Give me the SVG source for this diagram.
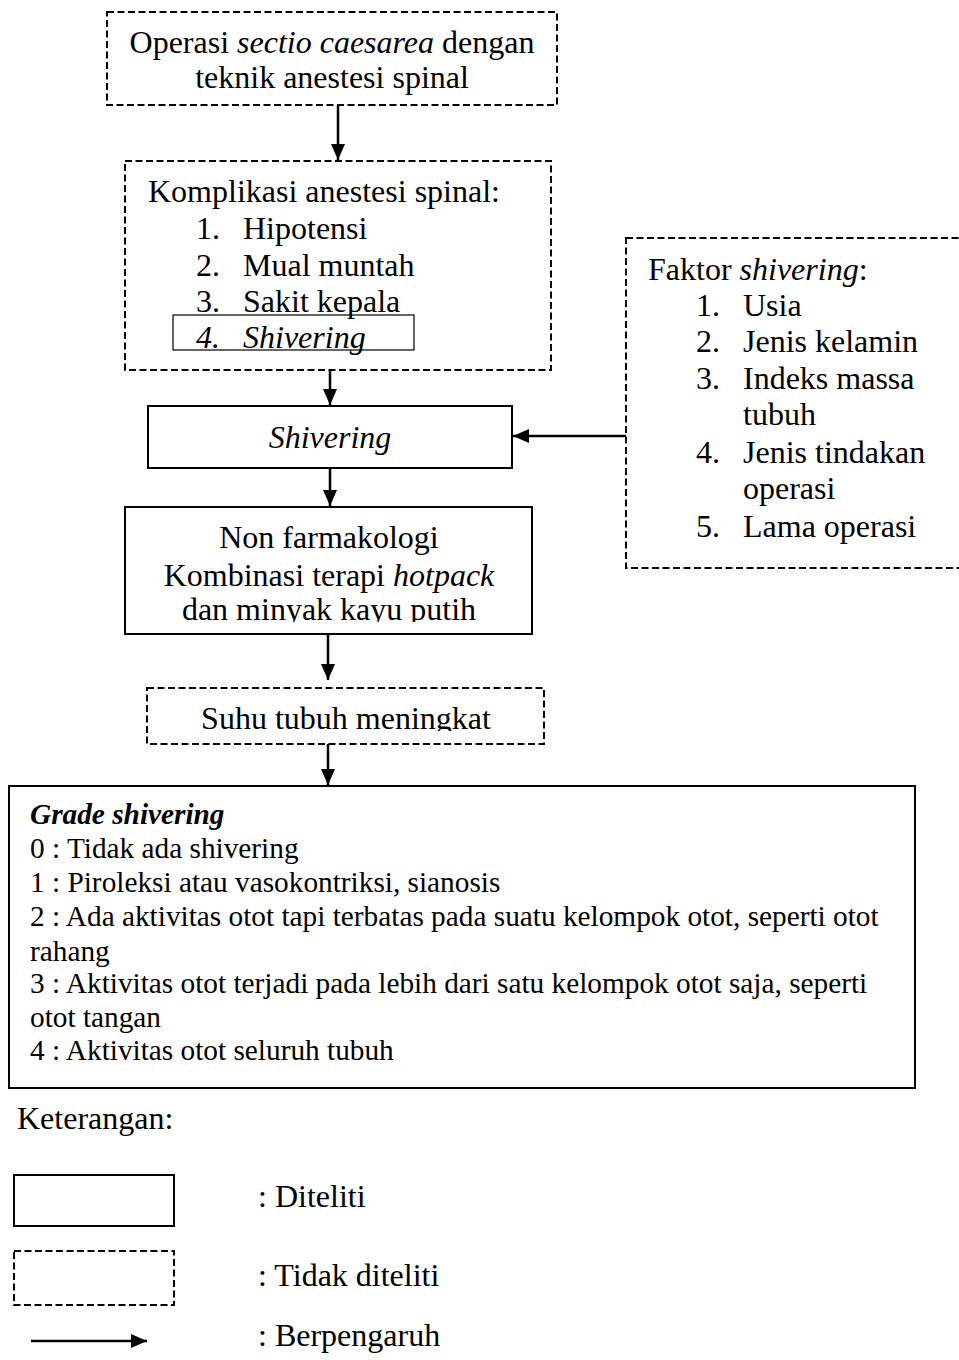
<svg xmlns="http://www.w3.org/2000/svg" width="959" height="1360" viewBox="0 0 959 1360">
<style>
text{font-family:"Liberation Serif","Times New Roman",serif;fill:#000;font-size:32px}
.s{fill:#fff;stroke:#000;stroke-width:2}
.d{fill:#fff;stroke:#000;stroke-width:2;stroke-dasharray:7,3.5}
.c{stroke:#000;stroke-width:2.5;fill:none}
.i{font-style:italic}
.g{font-size:29.3px}
.m{text-anchor:middle}
</style>
<defs>
<marker id="a" viewBox="0 0 16 14" refX="16" refY="7" markerWidth="16" markerHeight="14" orient="auto" markerUnits="userSpaceOnUse"><path d="M0,0 L16,7 L0,14 z" fill="#000"/></marker>
<clipPath id="cp1"><rect x="125" y="507" width="407" height="115"/></clipPath>
<clipPath id="cp2"><rect x="147" y="688" width="397" height="43"/></clipPath>
</defs>

<g id="connectors">
<line class="c" x1="338" y1="105" x2="338" y2="160" marker-end="url(#a)"/>
<line class="c" x1="330" y1="350" x2="330" y2="405" marker-end="url(#a)"/>
<line class="c" x1="626" y1="436" x2="513" y2="436" marker-end="url(#a)"/>
<line class="c" x1="330" y1="468" x2="330" y2="506" marker-end="url(#a)"/>
<line class="c" x1="328" y1="634" x2="328" y2="680" marker-end="url(#a)"/>
<line class="c" x1="328" y1="744" x2="328" y2="785" marker-end="url(#a)"/>
</g>

<g id="node-operasi">
<rect class="d" x="107" y="12" width="450" height="93"/>
<text class="m" x="332" y="53">Operasi <tspan class="i">sectio caesarea</tspan> dengan</text>
<text class="m" x="332" y="88">teknik anestesi spinal</text>
</g>

<g id="node-komplikasi">
<rect class="d" x="125" y="161" width="426" height="209"/>
<text x="148" y="202">Komplikasi anestesi spinal:</text>
<text x="196" y="239">1.</text><text x="243" y="239">Hipotensi</text>
<text x="196" y="276">2.</text><text x="243" y="276">Mual muntah</text>
<text x="196" y="312">3.</text><text x="243" y="312">Sakit kepala</text>
<rect x="173" y="315" width="241" height="35" fill="none" stroke="#000" stroke-width="1.2"/>
<text class="i" x="196" y="348">4.</text><text class="i" x="243" y="348">Shivering</text>
</g>

<g id="node-faktor">
<rect class="d" x="626" y="238" width="345" height="330"/>
<text x="648" y="280">Faktor <tspan class="i">shivering</tspan>:</text>
<text x="696" y="316">1.</text><text x="743" y="316">Usia</text>
<text x="696" y="352">2.</text><text x="743" y="352">Jenis kelamin</text>
<text x="696" y="389">3.</text><text x="743" y="389">Indeks massa</text>
<text x="743" y="425">tubuh</text>
<text x="696" y="463">4.</text><text x="743" y="463">Jenis tindakan</text>
<text x="743" y="499">operasi</text>
<text x="696" y="537">5.</text><text x="743" y="537">Lama operasi</text>
</g>

<g id="node-shivering">
<rect class="s" x="148" y="406" width="364" height="62"/>
<text class="m i" x="330" y="448">Shivering</text>
</g>

<g id="node-nonfarmakologi">
<rect class="s" x="125" y="507" width="407" height="127"/>
<g clip-path="url(#cp1)">
<text class="m" x="329" y="548">Non farmakologi</text>
<text class="m" x="329" y="586">Kombinasi terapi <tspan class="i">hotpack</tspan></text>
<text class="m" x="329" y="620">dan minyak kayu putih</text>
</g>
</g>

<g id="node-suhu">
<rect class="d" x="147" y="688" width="397" height="56"/>
<g clip-path="url(#cp2)">
<text class="m" x="346" y="729">Suhu tubuh meningkat</text>
</g>
</g>

<g id="node-grade">
<rect class="s" x="9" y="786" width="906" height="302"/>
<text class="g" x="30" y="824" font-weight="bold" font-style="italic">Grade shivering</text>
<text class="g" x="30" y="858">0 : Tidak ada shivering</text>
<text class="g" x="30" y="892">1 : Piroleksi atau vasokontriksi, sianosis</text>
<text class="g" x="30" y="926">2 : Ada aktivitas otot tapi terbatas pada suatu kelompok otot, seperti otot</text>
<text class="g" x="30" y="961">rahang</text>
<text class="g" x="30" y="993">3 : Aktivitas otot terjadi pada lebih dari satu kelompok otot saja, seperti</text>
<text class="g" x="30" y="1027">otot tangan</text>
<text class="g" x="30" y="1060">4 : Aktivitas otot seluruh tubuh</text>
</g>

<g id="legend">
<text x="17" y="1129">Keterangan:</text>
<rect class="s" x="14" y="1175" width="160" height="51"/>
<text x="258" y="1207">: Diteliti</text>
<rect class="d" x="14" y="1251" width="160" height="54"/>
<text x="258" y="1286">: Tidak diteliti</text>
<line class="c" x1="31" y1="1341" x2="147" y2="1341" marker-end="url(#a)"/>
<text x="258" y="1346">: Berpengaruh</text>
</g>
</svg>
